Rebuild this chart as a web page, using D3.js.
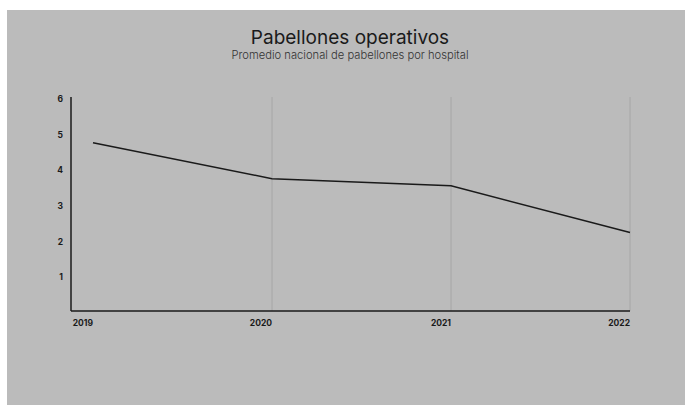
<!DOCTYPE html>
<html>
<head>
<meta charset="utf-8">
<script src="https://cdn.jsdelivr.net/npm/d3@7"></script>
<style>
  body { margin: 0; background: #ffffff; }
  svg { display: block; }
  text { font-family: Inter, "Noto Sans", sans-serif; fill: #1a1a1a; }
</style>
</head>
<body>
<svg id="chart" width="685" height="405"></svg>
<script>
// Promedio nacional de pabellones operativos por hospital
var years = [2019, 2020, 2021, 2022];
var values = [4.72, 3.71, 3.51, 2.2];
var yTicks = [1, 2, 3, 4, 5, 6];

var TITLE = "Pabellones operativos";
var SUBTITLE = "Promedio nacional de pabellones por hospital";

var svg = d3.select("#chart");

// panel de fondo gris
svg.append("rect")
   .attr("x", 7).attr("y", 10)
   .attr("width", 678).attr("height", 395)
   .attr("fill", "#bbbbbb");

svg.append("text")
   .attr("x", 350).attr("y", 44)
   .attr("text-anchor", "middle")
   .style("font-size", "19px")
   .text(TITLE);

svg.append("text")
   .attr("x", 350).attr("y", 59)
   .attr("text-anchor", "middle")
   .style("font-size", "11.2px")
   .style("font-weight", "300")
   .style("fill", "#333")
   .text(SUBTITLE);

var axisX = 71, bottom = 311;

var x = d3.scaleLinear().domain([2019, 2022]).range([93, 630]);
var y = d3.scaleLinear().domain([0, 6]).range([bottom, 97]);

// lineas verticales de guia
svg.append("g")
   .selectAll("line")
   .data(years.slice(1))
   .enter().append("line")
   .attr("x1", function(d) { return x(d); })
   .attr("x2", function(d) { return x(d); })
   .attr("y1", y(6))
   .attr("y2", bottom)
   .attr("stroke", "#a6a6a6")
   .attr("stroke-width", 1);

// ejes
svg.append("line")
   .attr("x1", axisX).attr("x2", axisX)
   .attr("y1", y(6)).attr("y2", bottom)
   .attr("stroke", "#1a1a1a").attr("stroke-width", 1.5);

svg.append("line")
   .attr("x1", axisX).attr("x2", x(2022))
   .attr("y1", bottom).attr("y2", bottom)
   .attr("stroke", "#1a1a1a").attr("stroke-width", 1.5);

// etiquetas del eje y
svg.append("g")
   .selectAll("text")
   .data(yTicks)
   .enter().append("text")
   .attr("x", 63)
   .attr("y", function(d) { return y(d) + 2; })
   .attr("dy", "0.35em")
   .attr("text-anchor", "end")
   .style("font-size", "8.5px")
   .style("font-weight", "bold")
   .text(function(d) { return d; });

// etiquetas del eje x
svg.append("g")
   .selectAll("text")
   .data(years)
   .enter().append("text")
   .attr("x", function(d) { return x(d); })
   .attr("y", 326)
   .attr("text-anchor", "end")
   .style("font-size", "8.5px")
   .style("font-weight", "bold")
   .text(function(d) { return d; });

// linea de datos
var line = d3.line()
   .x(function(d, i) { return x(years[i]); })
   .y(function(d) { return y(d); });

svg.append("path")
   .datum(values)
   .attr("d", line)
   .attr("fill", "none")
   .attr("stroke", "#1a1a1a")
   .attr("stroke-width", 1.5);
</script>
</body>
</html>
